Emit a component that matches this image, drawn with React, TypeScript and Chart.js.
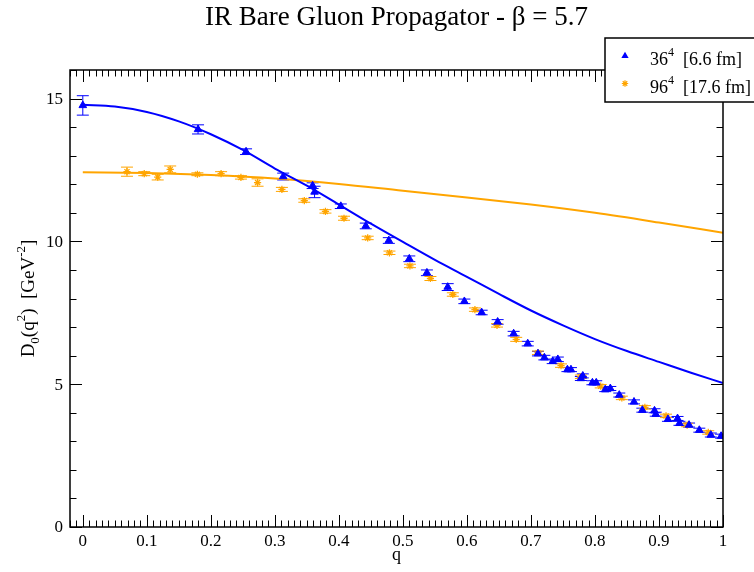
import React, { useEffect, useRef } from "react";
import { Chart, registerables } from "chart.js";

Chart.register(...registerables);

// ---------- data ----------
const blueQ = [0, 0.18, 0.255, 0.313, 0.359, 0.362, 0.403, 0.442, 0.478, 0.51, 0.5375, 0.57, 0.596, 0.623, 0.648, 0.673, 0.695, 0.711, 0.721, 0.734, 0.742, 0.757, 0.7625, 0.778, 0.781, 0.796, 0.802, 0.816, 0.824, 0.838, 0.861, 0.874, 0.893, 0.895, 0.914, 0.929, 0.932, 0.947, 0.963, 0.981, 0.997];
const blueD = [14.76, 13.92, 13.14, 12.27, 11.95, 11.73, 11.23, 10.54, 10.03, 9.39, 8.9, 8.4, 7.9, 7.51, 7.18, 6.77, 6.42, 6.07, 5.93, 5.8, 5.87, 5.51, 5.51, 5.2, 5.29, 5.05, 5.05, 4.81, 4.85, 4.62, 4.38, 4.09, 4.07, 3.95, 3.77, 3.8, 3.63, 3.57, 3.39, 3.22, 3.18];
const blueErr = [0.34, 0.16, 0.1, 0.12, 0.1, 0.2, 0.08, 0.1, 0.1, 0.1, 0.1, 0.12, 0.08, 0.08, 0.08, 0.08, 0.08, 0.08, 0.08, 0.08, 0.08, 0.07, 0.07, 0.07, 0.07, 0.07, 0.07, 0.07, 0.07, 0.07, 0.07, 0.07, 0.07, 0.07, 0.07, 0.07, 0.07, 0.07, 0.07, 0.07, 0.07];

const orangeQ = [0.069, 0.096, 0.117, 0.1365, 0.179, 0.216, 0.247, 0.273, 0.311, 0.346, 0.379, 0.408, 0.445, 0.479, 0.511, 0.543, 0.578, 0.6125, 0.647, 0.677, 0.711, 0.747, 0.778, 0.809, 0.842, 0.878, 0.911, 0.944, 0.977];
const orangeD = [12.44, 12.37, 12.25, 12.52, 12.35, 12.37, 12.24, 12.06, 11.82, 11.43, 11.05, 10.81, 10.12, 9.6, 9.14, 8.7, 8.14, 7.61, 7.06, 6.57, 6.1, 5.65, 5.26, 4.93, 4.52, 4.19, 3.89, 3.57, 3.31];
const orangeErr = [0.16, 0.07, 0.1, 0.12, 0.05, 0.07, 0.06, 0.13, 0.07, 0.06, 0.06, 0.07, 0.06, 0.06, 0.06, 0.07, 0.06, 0.06, 0.06, 0.07, 0.06, 0.06, 0.06, 0.06, 0.06, 0.06, 0.06, 0.06, 0.06];

const blueFitQ = [0, 0.05, 0.1, 0.15, 0.2, 0.25, 0.3, 0.35, 0.4, 0.45, 0.5, 0.55, 0.6, 0.65, 0.7, 0.75, 0.8, 0.85, 0.9, 0.95, 1.0];
const blueFitD = [14.78, 14.72, 14.53, 14.2, 13.75, 13.2, 12.55, 11.95, 11.29, 10.62, 9.98, 9.35, 8.76, 8.16, 7.58, 7.06, 6.58, 6.16, 5.78, 5.4, 5.04];

const orangeFitQ = [0, 0.1, 0.2, 0.3, 0.4, 0.5, 0.6, 0.7, 0.8, 0.9, 1.0];
const orangeFitD = [12.42, 12.39, 12.32, 12.2, 12.01, 11.77, 11.54, 11.29, 11.0, 10.66, 10.3];

const xTicks = [0, 0.1, 0.2, 0.3, 0.4, 0.5, 0.6, 0.7, 0.8, 0.9, 1];
const xTickLabels = ["0", "0.1", "0.2", "0.3", "0.4", "0.5", "0.6", "0.7", "0.8", "0.9", "1"];
const yTicks = [0, 5, 10, 15];
const yTickLabels = ["0", "5", "10", "15"];

const seriesLabels = ["36", "96"];
const seriesSup = ["4", "4"];
const seriesTail = ["[6.6 fm]", "[17.6 fm]"];

const BLUE = "#0000ff";
const ORANGE = "#ffa500";
const SERIF = '"Liberation Serif", "DejaVu Serif", serif';

type Seg = { t: string; s: number; dy?: number };

function drawRich(ctx: CanvasRenderingContext2D, segs: Seg[], x: number, y: number, align: "left" | "center") {
  let total = 0;
  const widths = segs.map((g) => {
    ctx.font = `${g.s}px ${SERIF}`;
    const w = ctx.measureText(g.t).width;
    total += w;
    return w;
  });
  let cx = align === "center" ? x - total / 2 : x;
  ctx.textAlign = "left";
  ctx.textBaseline = "alphabetic";
  segs.forEach((g, i) => {
    ctx.font = `${g.s}px ${SERIF}`;
    ctx.fillText(g.t, cx, y + (g.dy || 0));
    cx += widths[i];
  });
}

function drawTriangle(ctx: CanvasRenderingContext2D, x: number, y: number, r: number, color: string) {
  ctx.save();
  ctx.fillStyle = color;
  ctx.beginPath();
  ctx.moveTo(x, y - r);
  ctx.lineTo(x + r * 0.866, y + r * 0.5);
  ctx.lineTo(x - r * 0.866, y + r * 0.5);
  ctx.closePath();
  ctx.fill();
  ctx.restore();
}

function drawStar(ctx: CanvasRenderingContext2D, x: number, y: number, r: number, color: string) {
  ctx.save();
  ctx.strokeStyle = color;
  ctx.lineWidth = 1.2;
  ctx.beginPath();
  ctx.moveTo(x - r, y); ctx.lineTo(x + r, y);
  ctx.moveTo(x, y - r); ctx.lineTo(x, y + r);
  const d = r * 0.707;
  ctx.moveTo(x - d, y - d); ctx.lineTo(x + d, y + d);
  ctx.moveTo(x - d, y + d); ctx.lineTo(x + d, y - d);
  ctx.stroke();
  ctx.restore();
}

const decorPlugin = {
  id: "decor",
  beforeDatasetsDraw(chart: any) {
    const { ctx, scales } = chart;
    const xs = scales.x, ys = scales.y;
    const sets = [
      { q: blueQ, d: blueD, e: blueErr, c: BLUE },
      { q: orangeQ, d: orangeD, e: orangeErr, c: ORANGE },
    ];
    ctx.save();
    ctx.beginPath();
    ctx.rect(chart.chartArea.left, chart.chartArea.top, chart.chartArea.right - chart.chartArea.left, chart.chartArea.bottom - chart.chartArea.top);
    ctx.clip();
    ctx.lineWidth = 1;
    for (const s of sets) {
      ctx.strokeStyle = s.c;
      for (let i = 0; i < s.q.length; i++) {
        const px = xs.getPixelForValue(s.q[i]);
        const y1 = ys.getPixelForValue(s.d[i] + s.e[i]);
        const y2 = ys.getPixelForValue(s.d[i] - s.e[i]);
        ctx.beginPath();
        ctx.moveTo(px, y1); ctx.lineTo(px, y2);
        ctx.moveTo(px - 6, y1); ctx.lineTo(px + 6, y1);
        ctx.moveTo(px - 6, y2); ctx.lineTo(px + 6, y2);
        ctx.stroke();
      }
    }
    ctx.restore();
  },
  afterDraw(chart: any) {
    const { ctx, chartArea, scales } = chart;
    const { left, right, top, bottom } = chartArea;
    const xs = scales.x, ys = scales.y;
    ctx.save();
    ctx.strokeStyle = "#000";
    ctx.fillStyle = "#000";

    // frame
    ctx.lineWidth = 1.5;
    ctx.strokeRect(left, top, right - left, bottom - top);

    // ticks
    ctx.lineWidth = 1;
    ctx.beginPath();
    for (let k = -2; k <= 100; k++) {
      const v = k / 100;
      const px = Math.round(xs.getPixelForValue(v)) + 0.5;
      if (px < left || px > right + 1) continue;
      const len = k % 10 === 0 ? 12 : 6.5;
      ctx.moveTo(px, bottom); ctx.lineTo(px, bottom - len);
      ctx.moveTo(px, top); ctx.lineTo(px, top + len);
    }
    for (let v = 0; v <= 16; v++) {
      const py = Math.round(ys.getPixelForValue(v)) + 0.5;
      const len = v % 5 === 0 ? 12 : 6.5;
      ctx.moveTo(left, py); ctx.lineTo(left + len, py);
      ctx.moveTo(right, py); ctx.lineTo(right - len, py);
    }
    ctx.stroke();

    // tick labels
    ctx.font = `17px ${SERIF}`;
    ctx.textAlign = "center";
    ctx.textBaseline = "alphabetic";
    xTicks.forEach((v, i) => {
      ctx.fillText(xTickLabels[i], xs.getPixelForValue(v), 546);
    });
    ctx.textAlign = "right";
    ctx.textBaseline = "middle";
    yTicks.forEach((v, i) => {
      ctx.fillText(yTickLabels[i], 63, ys.getPixelForValue(v) + 1);
    });

    // axis titles
    ctx.textAlign = "center";
    ctx.textBaseline = "alphabetic";
    ctx.font = `18px ${SERIF}`;
    ctx.fillText("q", (left + right) / 2, 560);

    ctx.save();
    ctx.translate(34, (top + bottom) / 2);
    ctx.rotate(-Math.PI / 2);
    drawRich(ctx, [
      { t: "D", s: 19 },
      { t: "0", s: 13, dy: 5 },
      { t: "(q", s: 19 },
      { t: "2", s: 13, dy: -9 },
      { t: ")  [GeV", s: 19 },
      { t: "-2", s: 13, dy: -9 },
      { t: "]", s: 19 },
    ], 0, 0, "center");
    ctx.restore();

    // title
    ctx.font = `27px ${SERIF}`;
    ctx.textAlign = "center";
    ctx.fillText("IR Bare Gluon Propagator - \u03B2 = 5.7", (left + right) / 2, 25);

    // legend
    ctx.fillStyle = "#fff";
    ctx.fillRect(605, 38, 160, 64);
    ctx.lineWidth = 1.5;
    ctx.strokeStyle = "#000";
    ctx.strokeRect(605, 38, 160, 64);
    ctx.fillStyle = "#000";
    drawTriangle(ctx, 625, 56, 4.2, BLUE);
    drawStar(ctx, 625, 83.5, 3.2, ORANGE);
    const rows = [65, 93];
    rows.forEach((by, i) => {
      drawRich(ctx, [
        { t: seriesLabels[i], s: 18 },
        { t: seriesSup[i], s: 12, dy: -9 },
        { t: "  " + seriesTail[i], s: 18 },
      ], 650, by, "left");
    });
    ctx.restore();
  },
};

export default function App() {
  const ref = useRef<HTMLCanvasElement | null>(null);
  useEffect(() => {
    if (!ref.current) return;
    const chart = new Chart(ref.current, {
      type: "scatter",
      data: {
        datasets: [
          {
            label: "36^4",
            data: blueQ.map((q, i) => ({ x: q, y: blueD[i] })),
            pointStyle: "triangle",
            pointRadius: 4.4,
            pointBackgroundColor: BLUE,
            pointBorderColor: BLUE,
            pointBorderWidth: 1,
            showLine: false,
          },
          {
            label: "96^4",
            data: orangeQ.map((q, i) => ({ x: q, y: orangeD[i] })),
            pointStyle: "star",
            pointRadius: 3.6,
            pointBorderColor: ORANGE,
            pointBackgroundColor: ORANGE,
            pointBorderWidth: 1.3,
            showLine: false,
          },
          {
            label: "fit36",
            data: blueFitQ.map((q, i) => ({ x: q, y: blueFitD[i] })),
            showLine: true,
            borderColor: BLUE,
            borderWidth: 2,
            pointRadius: 0,
            cubicInterpolationMode: "monotone",
          },
          {
            label: "fit96",
            data: orangeFitQ.map((q, i) => ({ x: q, y: orangeFitD[i] })),
            showLine: true,
            borderColor: ORANGE,
            borderWidth: 2,
            pointRadius: 0,
            cubicInterpolationMode: "monotone",
          },
        ],
      },
      options: {
        responsive: false,
        animation: false,
        devicePixelRatio: 1,
        layout: { padding: { left: 70, right: 31, top: 70, bottom: 45 } },
        plugins: { legend: { display: false }, title: { display: false }, tooltip: { enabled: false } },
        scales: {
          x: { type: "linear", min: -0.02, max: 1, display: false },
          y: { type: "linear", min: 0, max: 16, display: false },
        },
        events: [],
      } as any,
      plugins: [decorPlugin],
    });
    return () => chart.destroy();
  }, []);
  return (
    <div style={{ position: "absolute", left: 0, top: 0, width: 754, height: 572, background: "#fff" }}>
      <canvas ref={ref} width={754} height={572} style={{ width: 754, height: 572, display: "block" }} />
    </div>
  );
}
